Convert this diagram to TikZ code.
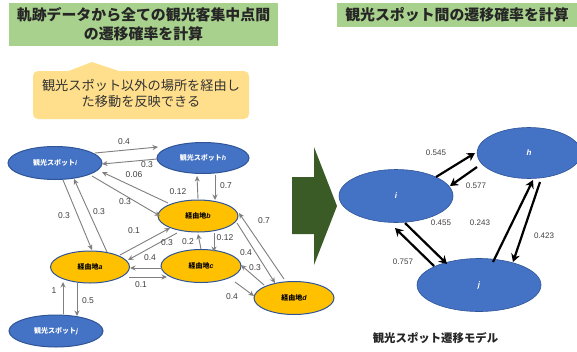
\documentclass[tikz,border=0pt]{standalone}
\usepackage{fontspec}
\usetikzlibrary{calc,arrows.meta,shapes.geometric}
\setmainfont{Liberation Sans}
\newfontfamily\jp{Noto Sans CJK JP}
\newfontfamily\lt{Liberation Sans}
\newcommand{\sub}[1]{{\lt\itshape #1}}
\definecolor{hdrgreen}{HTML}{A9D18E}
\definecolor{callout}{HTML}{FFDF8C}
\definecolor{bluefill}{HTML}{4472C4}
\definecolor{blueedge}{HTML}{2F5597}
\definecolor{orangefill}{HTML}{FFC000}
\definecolor{bigarrow}{HTML}{3B5B26}
\definecolor{graytext}{HTML}{404040}
\definecolor{grayline}{HTML}{7F7F7F}
\tikzset{
  spot/.style={ellipse,draw=blueedge,line width=1pt,fill=bluefill,inner sep=0pt,text=white,
    font=\jp\bfseries\fontsize{7}{8}\selectfont},
  via/.style={ellipse,draw=blueedge,line width=1pt,fill=orangefill,inner sep=0pt,text=black,
    font=\jp\bfseries\fontsize{7}{8}\selectfont},
  bigspot/.style={ellipse,draw=blueedge,line width=.6pt,fill=bluefill,inner sep=0pt,text=white,
    font=\bfseries\itshape\fontsize{8}{9}\selectfont},
  thinarr/.style={draw=grayline,line width=.9pt,-{Stealth[length=5.5pt,width=5pt]}},
  boldarr/.style={draw=black,line width=2.2pt,-{Stealth[length=8pt,width=9pt]}},
  lab/.style={text=graytext,inner sep=0pt,font=\fontsize{8.5}{10}\selectfont},
  biglab/.style={text=graytext,inner sep=0pt,font=\fontsize{8}{10}\selectfont},
  header/.style={fill=hdrgreen,inner sep=0pt,align=center,text=black!85,
    font=\jp\bfseries\fontsize{14.9}{19}\selectfont},
}
\begin{document}
\begin{tikzpicture}[x=1pt,y=-1pt]
\useasboundingbox (0,0) rectangle (577,351);
\clip (0,0) rectangle (577,351);
\fill[white] (0,0) rectangle (577,351);
% headers
\node[header,minimum width=269pt,minimum height=43pt] (hl) at (143.5,24.5) {軌跡データから全ての観光客集中点間\\の遷移確率を計算};
\node[header,minimum width=240pt,minimum height=24pt] (hr) at (457,15) {観光スポット間の遷移確率を計算};
% callout
\fill[callout,rounded corners=5pt] (33,71) rectangle (249,119);
\fill[callout] (66,72) -- (92,62) -- (122,72) -- cycle;
\node[align=center,inner sep=0pt,text=black!80,font=\jp\fontsize{13.2}{16}\selectfont] (co) at (141,93.5) {観光スポット以外の場所を経由し\\た移動を反映できる};
% big arrow
\fill[bigarrow] (292,177) -- (314,177) -- (314,147) -- (337,206) -- (314,265) -- (314,234) -- (292,234) -- cycle;
% left nodes
\node[spot,minimum width=94pt,minimum height=33pt] (si) at (55,163) {観光スポット\sub{i}};
\node[spot,minimum width=92pt,minimum height=31pt] (sh) at (203,158) {観光スポット\sub{h}};
\node[spot,minimum width=94pt,minimum height=32pt] (sj) at (56,331) {観光スポット\sub{j}};
\node[via,minimum width=80pt,minimum height=32pt] (vb) at (198,216) {経由地\sub{b}};
\node[via,minimum width=79pt,minimum height=32pt] (va) at (90,267) {経由地\sub{a}};
\node[via,minimum width=80pt,minimum height=33pt] (vc) at (201,266) {経由地\sub{c}};
\node[via,minimum width=80pt,minimum height=33pt] (vd) at (294,298) {経由地\sub{d}};
% left connectors
\draw[thinarr] ($(si)+(40,-10)$) -- ($(sh)+(-45,-11)$);
\draw[thinarr] ($(sh)+(-46,1)$) -- ($(si)+(47,1)$);
\draw[thinarr] ($(vb)+(-30,-13)$) -- ($(si)+(47,9)$);
\draw[thinarr] ($(si)+(37,13)$) -- ($(vb)+(-38,0)$);
\draw[thinarr] ($(si)+(8,17)$) -- ($(va)+(2,-17)$);
\draw[thinarr] ($(va)+(17,-15)$) -- ($(si)+(19,16)$);
\draw[thinarr] ($(va)+(30,-12)$) -- ($(vb)+(-28,12)$);
\draw[thinarr] ($(vb)+(-21,17)$) -- ($(va)+(38,-7)$);
\draw[thinarr] ($(vc)+(-39,2)$) -- ($(va)+(40,1)$);
\draw[thinarr] ($(va)+(39,10)$) -- ($(vc)+(-34,11)$);
\draw[thinarr] ($(vb)+(0,-17)$) -- ($(sh)+(-6,18)$);
\draw[thinarr] ($(sh)+(12,17)$) -- ($(vb)+(17,-16)$);
\draw[thinarr] ($(vc)+(0,-17)$) -- ($(vb)+(0,18)$);
\draw[thinarr] ($(vb)+(16,17)$) -- ($(vc)+(13,-14)$);
\draw[thinarr] ($(vd)+(-10,-19)$) -- ($(vb)+(41,-3)$);
\draw[thinarr] ($(vb)+(39,7)$) -- ($(vd)+(-19,-15)$);
\draw[thinarr] ($(vd)+(-30,-13)$) -- ($(vc)+(40,-1)$);
\draw[thinarr] ($(vc)+(34,16)$) -- ($(vd)+(-40,-2)$);
\draw[thinarr] ($(sj)+(7,-17)$) -- ($(va)+(-27,15)$);
\draw[thinarr] ($(va)+(-13,16)$) -- ($(sj)+(21,-15)$);
% left labels
\node[lab] (l1) at (124,142) {0.4};
\node[lab] (l2) at (147,165) {0.3};
\node[lab] (l3) at (134,175) {0.06};
\node[lab] (l4) at (125,202) {0.3};
\node[lab] (l5) at (64,216) {0.3};
\node[lab] (l6) at (99,212) {0.3};
\node[lab] (l7) at (134,231) {0.1};
\node[lab] (l8) at (178,192) {0.12};
\node[lab] (l9) at (226,186) {0.7};
\node[lab] (l10) at (264,221) {0.7};
\node[lab] (l11) at (167,243) {0.3};
\node[lab] (l12) at (188,242) {0.2};
\node[lab] (l13) at (225,238) {0.12};
\node[lab] (l14) at (150,258) {0.4};
\node[lab] (l15) at (141,285) {0.1};
\node[lab] (l16) at (246,253) {0.4};
\node[lab] (l17) at (255,268) {0.3};
\node[lab] (l18) at (232,297) {0.4};
\node[lab] (l19) at (54,291) {1};
\node[lab] (l20) at (88,301) {0.5};
% right nodes
\node[bigspot,minimum width=114pt,minimum height=53pt] (ri) at (396,196) {i};
\node[bigspot,minimum width=104pt,minimum height=51pt] (rh) at (529,153) {h};
\node[bigspot,minimum width=124pt,minimum height=53pt] (rj) at (479,285) {j};
% right connectors
\draw[boldarr] ($(ri)+(40,-19)$) -- ($(rh)+(-54,0)$);
\draw[boldarr] ($(rh)+(-52,14)$) -- ($(ri)+(54,-10)$);
\draw[boldarr] ($(ri)+(9,27)$) -- ($(rj)+(-32,-21)$);
\draw[boldarr] ($(rj)+(-45,-19)$) -- ($(ri)+(-1,32)$);
\draw[boldarr] ($(rj)+(14,-23)$) -- ($(rh)+(4,27)$);
\draw[boldarr] ($(rh)+(11,29)$) -- ($(rj)+(34,-23)$);
% right labels
\node[biglab] (r1) at (436,153) {0.545};
\node[biglab] (r2) at (476,186) {0.577};
\node[biglab] (r3) at (441,223) {0.455};
\node[biglab] (r4) at (480,223) {0.243};
\node[biglab] (r5) at (544,236) {0.423};
\node[biglab] (r6) at (403,262) {0.757};
\node[inner sep=0pt,text=black!85,font=\jp\bfseries\fontsize{11.4}{14}\selectfont] (cap) at (435.5,338) {観光スポット遷移モデル};
\end{tikzpicture}
\end{document}
